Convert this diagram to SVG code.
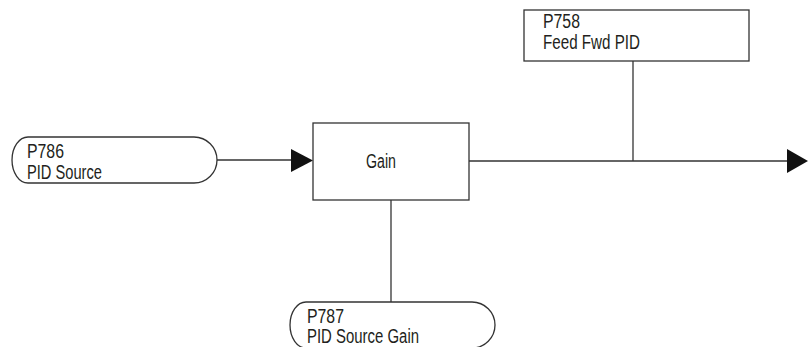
<svg xmlns="http://www.w3.org/2000/svg" width="808" height="347" viewBox="0 0 808 347">
<style>
.shape{fill:#fff;stroke:#333;stroke-width:1.3}
.line{fill:none;stroke:#333;stroke-width:1.3}
.arrow{fill:#111;stroke:none}
text{font-family:"Liberation Sans",Arial,sans-serif;font-size:20px;fill:#231f20}
</style>
<rect width="808" height="347" fill="#fff"/>
<g id="connectors">
<line class="line" x1="217" y1="160" x2="293" y2="160"/>
<polygon class="arrow" points="291,149 313,160.5 291,172"/>
<line class="line" x1="469" y1="161" x2="790" y2="161"/>
<polygon class="arrow" points="787,149 808,161 787,173"/>
<line class="line" x1="633" y1="61" x2="633" y2="161"/>
<line class="line" x1="391" y1="200" x2="391" y2="302"/>
</g>
<g id="pid-source">
<path class="shape" d="M 28 137 H 194 A 23 23 0 0 1 194 183 H 28 A 16 23 0 0 1 28 137 Z"/>
<text x="27" y="158" textLength="37" lengthAdjust="spacingAndGlyphs">P786</text>
<text x="27" y="179" textLength="75" lengthAdjust="spacingAndGlyphs">PID Source</text>
</g>
<g id="gain">
<rect class="shape" x="313" y="123" width="156" height="77"/>
<text x="366" y="168" textLength="30" lengthAdjust="spacingAndGlyphs">Gain</text>
</g>
<g id="feed-fwd">
<rect class="shape" x="524" y="10" width="225" height="51"/>
<text x="543" y="28" textLength="37" lengthAdjust="spacingAndGlyphs">P758</text>
<text x="543" y="49" textLength="97" lengthAdjust="spacingAndGlyphs">Feed Fwd PID</text>
</g>
<g id="pid-source-gain">
<path class="shape" d="M 306 302 H 472 A 23 23 0 0 1 472 348 H 306 A 16 23 0 0 1 306 302 Z"/>
<text x="307" y="323" textLength="37" lengthAdjust="spacingAndGlyphs">P787</text>
<text x="307" y="343" textLength="112" lengthAdjust="spacingAndGlyphs">PID Source Gain</text>
</g>
</svg>
